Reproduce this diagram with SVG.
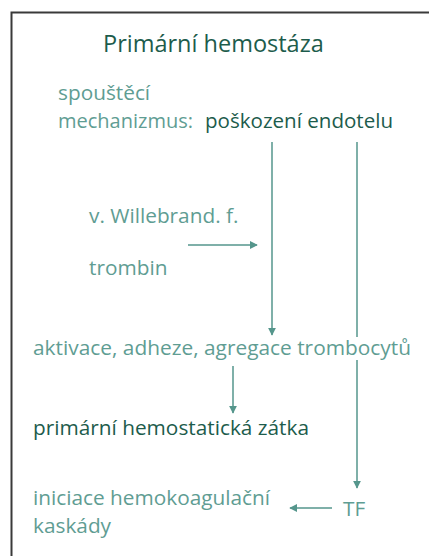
<svg xmlns="http://www.w3.org/2000/svg" width="429" height="556" viewBox="0 0 429 556">
<style>
text{font-family:"Open Sans","Noto Sans","DejaVu Sans",sans-serif;font-size:20.8px}
.l{fill:#5f9d93}
.d{fill:#1d5c4c}
.c{stroke:#55968c;stroke-width:1.5;fill:none}
</style>
<defs>
<marker id="ah" viewBox="0 0 10 10" refX="9" refY="5" markerWidth="8" markerHeight="8" markerUnits="userSpaceOnUse" orient="auto">
<path d="M0,0 L10,5 L0,10 z" fill="#55968c"/>
</marker>
</defs>
<rect width="429" height="556" fill="#fff"/>
<path d="M11.5,556 V12.5 H429" fill="none" stroke="#3a3a3a" stroke-width="2"/>
<g id="title"><text class="d" x="103" y="52" style="font-size:23.5px">Primární hemostáza</text></g>
<g id="trigger"><text class="l" x="58" y="100">spouštěcí</text><text class="l" x="58" y="128" textLength="135" lengthAdjust="spacingAndGlyphs">mechanizmus:</text></g>
<g id="endotel"><text class="d" x="205" y="128" textLength="188" lengthAdjust="spacingAndGlyphs">poškození endotelu</text></g>
<g id="vwf"><text class="l" x="89" y="223">v. Willebrand. f.</text></g>
<g id="trombin"><text class="l" x="89" y="275">trombin</text></g>
<g id="aktivace"><text class="l" x="33" y="355" textLength="378" lengthAdjust="spacingAndGlyphs">aktivace, adheze, agregace trombocytů</text></g>
<g id="zatka"><text class="d" x="33" y="435">primární hemostatická zátka</text></g>
<g id="iniciace"><text class="l" x="33" y="505">iniciace hemokoagulační</text><text class="l" x="33" y="533">kaskády</text></g>
<g id="tf"><text class="l" x="343" y="516">TF</text></g>
<g id="connectors">
<path class="c" d="M272,142 V335" marker-end="url(#ah)"/>
<path class="c" d="M357,142 V337"/>
<path class="c" d="M357,360 V488" marker-end="url(#ah)"/>
<path class="c" d="M188,245 H257" marker-end="url(#ah)"/>
<path class="c" d="M233,366 V413" marker-end="url(#ah)"/>
<path class="c" d="M332,508 H290" marker-end="url(#ah)"/>
</g>
</svg>
